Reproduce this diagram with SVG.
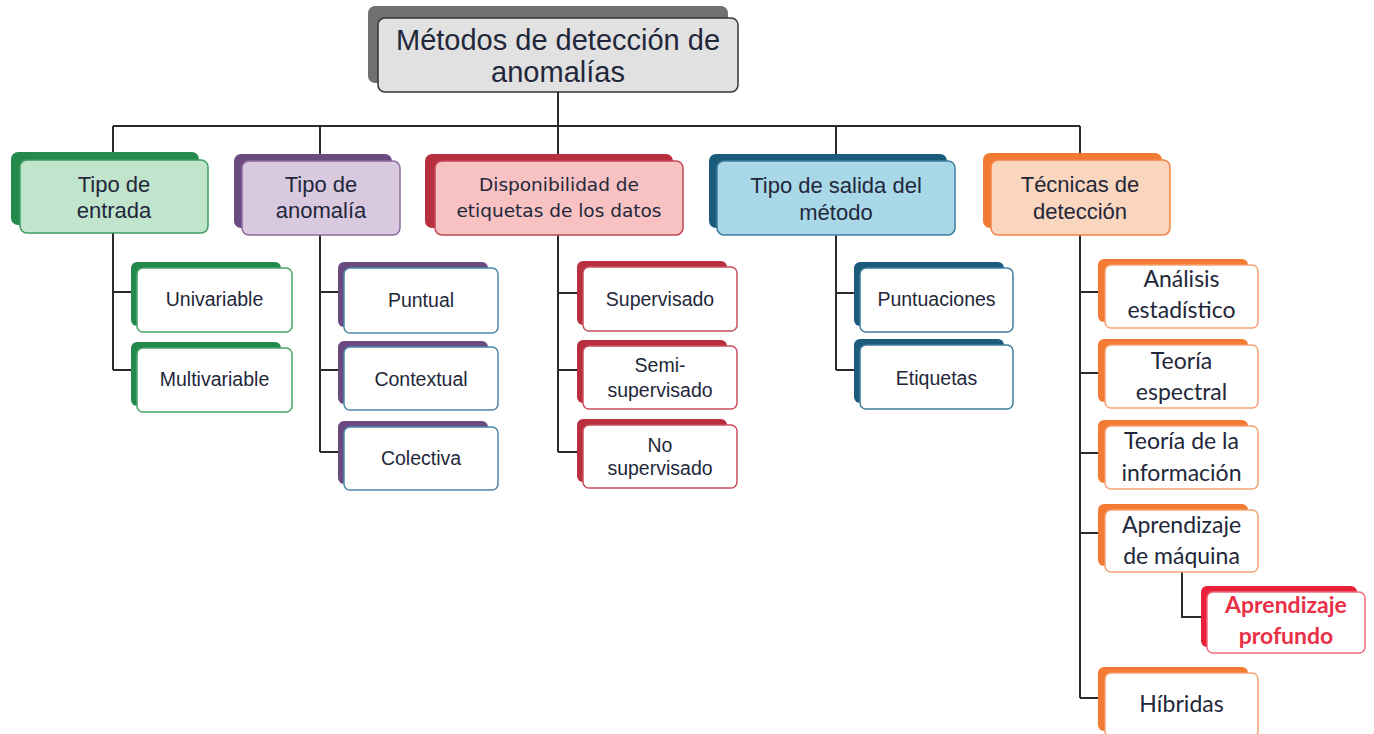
<svg xmlns="http://www.w3.org/2000/svg" width="1374" height="734" viewBox="0 0 1374 734">
<style>
.conn{fill:none;stroke:#2a2a2a;stroke-width:2}
.t{font-family:"Liberation Sans",Arial,sans-serif;fill:#23273a;text-anchor:middle}
.root{font-size:29px}
.cat{font-size:22px}
.catd{font-family:"DejaVu Sans","Liberation Sans",sans-serif;font-size:18.5px}
.ch{font-size:19.5px}
.och{font-family:Lato,"Liberation Sans",sans-serif;font-size:23px}
.deep{font-family:Lato,"Liberation Sans",sans-serif;font-size:23px;font-weight:bold;fill:#ea2f47}
.sh-g{fill:#238a4b}.fr-g{fill:#c1e4cd;stroke:#3f9d60;stroke-width:1.5}
.sh-p{fill:#6a4a80}.fr-p{fill:#d9c9df;stroke:#8c6c9c;stroke-width:1.5}
.sh-r{fill:#b83040}.fr-r{fill:#f8c2c3;stroke:#c44656;stroke-width:1.5}
.sh-b{fill:#1b5b7b}.fr-b{fill:#a9d9e8;stroke:#3e7c9c;stroke-width:1.5}
.sh-o{fill:#f27a32}.fr-o{fill:#fbd6be;stroke:#f28344;stroke-width:1.5}
.w-g{fill:#fff;stroke:#4aa56a;stroke-width:1.5}
.w-p{fill:#fff;stroke:#4a88a6;stroke-width:1.5}
.w-r{fill:#fff;stroke:#c9505f;stroke-width:1.5}
.w-b{fill:#fff;stroke:#3e7c9c;stroke-width:1.5}
.w-o{fill:#fff;stroke:#f5a274;stroke-width:1.5}
.w-d{fill:#fff;stroke:#f06a7b;stroke-width:1.5}
.sh-d{fill:#e8203a}
</style>
<rect width="1374" height="734" fill="#ffffff"/>
<g id="connectors">
<path class="conn" d="M558 92V154"/>
<path class="conn" d="M113 126H1080"/>
<path class="conn" d="M113 126V152M320 126V154M836 126V154M1080 126V153"/>
<path class="conn" d="M113 233V370M113 292H131M113 370H131"/>
<path class="conn" d="M320 235V452M320 292H338M320 370H338M320 452H338"/>
<path class="conn" d="M558 235V452M558 293H577M558 370H577M558 452H577"/>
<path class="conn" d="M836 235V370M836 293H854M836 370H854"/>
<path class="conn" d="M1080 235V698M1080 292H1098M1080 373H1098M1080 453H1098M1080 533H1098M1080 698H1098"/>
<path class="conn" d="M1182 572V617H1201"/>
</g>
<g id="root">
<rect x="368" y="6" width="360" height="77" rx="7" fill="#6f7171"/>
<rect x="378" y="18" width="360" height="74" rx="7" fill="#e1e1e1" stroke="#333" stroke-width="1.5"/>
<text class="t root" x="558" y="50">Métodos de detección de</text>
<text class="t root" x="558" y="82">anomalías</text>
</g>
<g id="cat-entrada">
<rect class="sh-g" x="11" y="152" width="188" height="73" rx="7"/>
<rect class="fr-g" x="20" y="160" width="188" height="73" rx="7"/>
<text class="t cat" x="114" y="192">Tipo de</text>
<text class="t cat" x="114" y="218">entrada</text>
</g>
<g id="cat-anomalia">
<rect class="sh-p" x="234" y="154" width="158" height="74" rx="7"/>
<rect class="fr-p" x="242" y="161" width="158" height="74" rx="7"/>
<text class="t cat" x="321" y="192">Tipo de</text>
<text class="t cat" x="321" y="218">anomalía</text>
</g>
<g id="cat-etiquetas">
<rect class="sh-r" x="425" y="154" width="248" height="74" rx="7"/>
<rect class="fr-r" x="435" y="161" width="248" height="74" rx="7"/>
<text class="t catd" x="559" y="191">Disponibilidad de</text>
<text class="t catd" x="559" y="217">etiquetas de los datos</text>
</g>
<g id="cat-salida">
<rect class="sh-b" x="709" y="154" width="238" height="74" rx="7"/>
<rect class="fr-b" x="717" y="161" width="238" height="74" rx="7"/>
<text class="t cat" x="836" y="193">Tipo de salida del</text>
<text class="t cat" x="836" y="220">método</text>
</g>
<g id="cat-tecnicas">
<rect class="sh-o" x="983" y="153" width="179" height="75" rx="7"/>
<rect class="fr-o" x="991" y="160" width="179" height="75" rx="7"/>
<text class="t cat" x="1080" y="192">Técnicas de</text>
<text class="t cat" x="1080" y="219">detección</text>
</g>
<g id="n-univariable">
<rect class="sh-g" x="131" y="262" width="150" height="64" rx="6"/>
<rect class="w-g" x="137" y="268" width="155" height="64" rx="6"/>
<text class="t ch" x="214.5" y="306">Univariable</text>
</g>
<g id="n-multivariable">
<rect class="sh-g" x="131" y="342" width="150" height="64" rx="6"/>
<rect class="w-g" x="137" y="348" width="155" height="64" rx="6"/>
<text class="t ch" x="214.5" y="386">Multivariable</text>
</g>
<g id="n-puntual">
<rect class="sh-p" x="338" y="262" width="150" height="65" rx="6"/>
<rect class="w-p" x="344" y="268" width="154" height="65" rx="6"/>
<text class="t ch" x="421" y="307">Puntual</text>
</g>
<g id="n-contextual">
<rect class="sh-p" x="338" y="341" width="150" height="63" rx="6"/>
<rect class="w-p" x="344" y="347" width="154" height="63" rx="6"/>
<text class="t ch" x="421" y="386">Contextual</text>
</g>
<g id="n-colectiva">
<rect class="sh-p" x="338" y="421" width="150" height="63" rx="6"/>
<rect class="w-p" x="344" y="427" width="154" height="63" rx="6"/>
<text class="t ch" x="421" y="465">Colectiva</text>
</g>
<g id="n-supervisado">
<rect class="sh-r" x="577" y="261" width="150" height="64" rx="6"/>
<rect class="w-r" x="583" y="267" width="154" height="64" rx="6"/>
<text class="t ch" x="660" y="306">Supervisado</text>
</g>
<g id="n-semi">
<rect class="sh-r" x="577" y="340" width="150" height="63" rx="6"/>
<rect class="w-r" x="583" y="346" width="154" height="63" rx="6"/>
<text class="t ch" x="660" y="372">Semi-</text>
<text class="t ch" x="660" y="397">supervisado</text>
</g>
<g id="n-no">
<rect class="sh-r" x="577" y="419" width="150" height="63" rx="6"/>
<rect class="w-r" x="583" y="425" width="154" height="63" rx="6"/>
<text class="t ch" x="660" y="452">No</text>
<text class="t ch" x="660" y="475">supervisado</text>
</g>
<g id="n-puntuaciones">
<rect class="sh-b" x="854" y="262" width="150" height="64" rx="6"/>
<rect class="w-b" x="860" y="268" width="153" height="64" rx="6"/>
<text class="t ch" x="936.5" y="306">Puntuaciones</text>
</g>
<g id="n-etiquetas">
<rect class="sh-b" x="854" y="339" width="150" height="64" rx="6"/>
<rect class="w-b" x="860" y="345" width="153" height="64" rx="6"/>
<text class="t ch" x="936.5" y="385">Etiquetas</text>
</g>
<g id="n-analisis">
<rect class="sh-o" x="1098" y="259" width="150" height="63" rx="6"/>
<rect class="w-o" x="1105" y="265" width="153" height="63" rx="6"/>
<text class="t och" x="1181.5" y="287">Análisis</text>
<text class="t och" x="1181.5" y="318">estadístico</text>
</g>
<g id="n-espectral">
<rect class="sh-o" x="1098" y="339" width="150" height="63" rx="6"/>
<rect class="w-o" x="1105" y="345" width="153" height="63" rx="6"/>
<text class="t och" x="1181.5" y="369">Teoría</text>
<text class="t och" x="1181.5" y="400">espectral</text>
</g>
<g id="n-informacion">
<rect class="sh-o" x="1098" y="420" width="150" height="63" rx="6"/>
<rect class="w-o" x="1105" y="426" width="153" height="63" rx="6"/>
<text class="t och" x="1181.5" y="449">Teoría de la</text>
<text class="t och" x="1181.5" y="481">información</text>
</g>
<g id="n-maquina">
<rect class="sh-o" x="1098" y="504" width="150" height="62" rx="6"/>
<rect class="w-o" x="1105" y="510" width="153" height="62" rx="6"/>
<text class="t och" x="1181.5" y="533">Aprendizaje</text>
<text class="t och" x="1181.5" y="564">de máquina</text>
</g>
<g id="n-profundo">
<rect class="sh-d" x="1201" y="586" width="156" height="61" rx="6"/>
<rect class="w-d" x="1207" y="592" width="158" height="61" rx="6"/>
<text class="t deep" x="1286" y="613">Aprendizaje</text>
<text class="t deep" x="1286" y="644">profundo</text>
</g>
<g id="n-hibridas">
<rect class="sh-o" x="1098" y="667" width="150" height="64" rx="6"/>
<rect class="w-o" x="1105" y="673" width="153" height="64" rx="6"/>
<text class="t och" x="1181.5" y="712">Híbridas</text>
</g>
</svg>
